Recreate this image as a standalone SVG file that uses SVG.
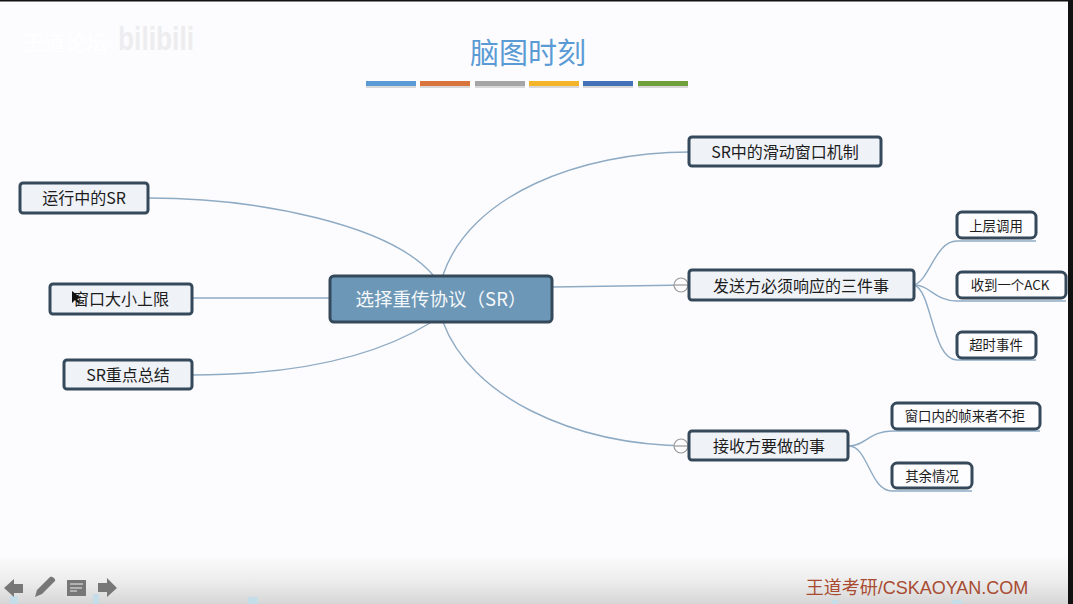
<svg xmlns="http://www.w3.org/2000/svg" width="1073" height="604" viewBox="0 0 1073 604">
<defs>
<linearGradient id="fade" x1="0" y1="0" x2="0" y2="1"><stop offset="0" stop-color="#fcfcfe"/><stop offset="0.55" stop-color="#ececec"/><stop offset="1" stop-color="#d6d6d6"/></linearGradient>
</defs>
<style>
text{font-family:"Noto Sans CJK SC","Liberation Sans",sans-serif;text-anchor:middle;dominant-baseline:central;fill:#1c1c1c;font-size:16px}
.n{fill:#eff2f7;stroke:#35495a;stroke-width:3}
.s{fill:#fdfdff;stroke:#35495a;stroke-width:3}
.c{fill:none;stroke:#8fabc4;stroke-width:1.4}
.small{font-size:13.4px}
.col{fill:#fcfcfe;stroke:#999;stroke-width:1.2}
.t{fill:#777}
.bar{stroke:#bbb;stroke-width:0}
.b{fill:#c4dde9}
</style>
<rect width="1073" height="604" fill="#fcfcfe"/>
<rect width="1073" height="1.5" fill="#111"/>
<rect x="1068" y="0" width="5" height="604" fill="#111"/>
<rect x="0" y="555" width="1068" height="49" fill="url(#fade)"/>
<g id="ticks"><rect class="b" x="10" y="596" width="8" height="8"/><rect class="b" x="93" y="594" width="6" height="10"/><rect class="b" x="248" y="597" width="10" height="7"/><rect class="b" x="832" y="600" width="6" height="4"/><rect class="b" x="952" y="600" width="10" height="4"/></g>
<g id="watermark"><text x="65" y="41" style="fill:#ffffff;font-size:21px">王道论坛</text><text x="156" y="38" textLength="76" lengthAdjust="spacingAndGlyphs" style="fill:#ededef;font-size:34px;font-weight:bold;font-family:'Liberation Sans',sans-serif">bilibili</text></g>
<g id="title"><text x="528" y="51" style="fill:#5b9bd5;font-size:29px">脑图时刻</text>
<rect x="366" y="81" width="50" height="6" fill="#d8d8d8" transform="translate(0 1)"/><rect x="420" y="81" width="50" height="6" fill="#d8d8d8" transform="translate(0 1)"/><rect x="475" y="81" width="50" height="6" fill="#d8d8d8" transform="translate(0 1)"/><rect x="529" y="81" width="50" height="6" fill="#d8d8d8" transform="translate(0 1)"/><rect x="583" y="81" width="50" height="6" fill="#d8d8d8" transform="translate(0 1)"/><rect x="638" y="81" width="50" height="6" fill="#d8d8d8" transform="translate(0 1)"/>
<rect x="366" y="81" width="50" height="5" fill="#5b9bd5"/><rect x="420" y="81" width="50" height="5" fill="#d9743c"/><rect x="475" y="81" width="50" height="5" fill="#a5a5a5"/><rect x="529" y="81" width="50" height="5" fill="#f5b52a"/><rect x="583" y="81" width="50" height="5" fill="#4472b8"/><rect x="638" y="81" width="50" height="5" fill="#70a03c"/></g>
<g id="connectors">
<path class="c" d="M148 198C260 198 390 225 433 275"/>
<path class="c" d="M192 298H330"/>
<path class="c" d="M192 375C290 375 370 360 430 323"/>
<path class="c" d="M443 275C470 195 580 152 689 152"/>
<path class="c" d="M552 287L689 285"/>
<path class="c" d="M443 322C470 395 570 445 689 446"/>
<path class="c" d="M914 285C930 280 935 241 957 241H1036"/>
<path class="c" d="M914 285C930 285 935 301 957 301H1066"/>
<path class="c" d="M914 285C932 290 932 360 957 360H1036"/>
<path class="c" d="M849 446C865 446 870 431 892 431H1040"/>
<path class="c" d="M849 446C868 446 870 491 892 491H972"/>
</g>
<g id="root"><rect x="330" y="276" width="222" height="46" rx="4" fill="#6d97b6" stroke="#35495a" stroke-width="3"/><text x="441" y="298" style="fill:#f5f8fa;font-size:18.5px">选择重传协议（SR）</text></g>
<g id="n1"><rect class="n" x="20" y="183" width="128" height="30" rx="3"/><text x="84" y="197">运行中的SR</text></g>
<g id="n2"><rect class="n" x="50" y="284" width="142" height="30" rx="3"/><text x="121" y="298">窗口大小上限</text></g>
<g id="n3"><rect class="n" x="64" y="360" width="128" height="29" rx="3"/><text x="128" y="374">SR重点总结</text></g>
<g id="n4"><rect class="n" x="689" y="137" width="192" height="29" rx="3"/><text x="785" y="151">SR中的滑动窗口机制</text></g>
<g id="n5"><circle class="col" cx="681" cy="285" r="7"/><path d="M674 285H688" stroke="#999" stroke-width="1.2"/><rect class="n" x="689" y="270" width="225" height="30" rx="3"/><text x="801" y="285">发送方必须响应的三件事</text></g>
<g id="n6"><circle class="col" cx="681" cy="446" r="7"/><path d="M674 446H688" stroke="#999" stroke-width="1.2"/><rect class="n" x="689" y="431" width="159" height="29" rx="3"/><text x="769" y="445">接收方要做的事</text></g>
<g id="n7"><rect class="s" x="957" y="212" width="79" height="26" rx="5"/><text class="small" x="996" y="225">上层调用</text></g>
<g id="n8"><rect class="s" x="957" y="272" width="109" height="26" rx="5"/><text class="small" x="1010" y="284">收到一个ACK</text></g>
<g id="n9"><rect class="s" x="957" y="332" width="79" height="26" rx="5"/><text class="small" x="996" y="344">超时事件</text></g>
<g id="n10"><rect class="s" x="892" y="403" width="148" height="26" rx="5"/><text class="small" x="965" y="415">窗口内的帧来者不拒</text></g>
<g id="n11"><rect class="s" x="892" y="463" width="80" height="25" rx="5"/><text class="small" x="932" y="475">其余情况</text></g>
<g id="cursor"><path d="M72 291L72 303L75 300L79 304L80 302L77 299L81 298Z" fill="#111"/></g>
<g id="toolbar">
<path class="t" d="M4 588L14 579V584H23V593H14V597Z"/>
<path class="t" d="M35 597L37 590L50 577C52 576 56 579 55 581L42 594Z"/>
<rect class="t" x="67" y="580" width="19" height="16"/><path d="M70 584H83M70 588H82M70 591H77" stroke="#eee" stroke-width="1.2"/>
<path class="t" d="M117 588L107 578V583H98V592H107V597Z"/>
</g>
<text id="brand" x="917" y="588" style="fill:#a84b30;font-size:18px;font-family:'Liberation Sans','Noto Sans CJK SC',sans-serif">王道考研/CSKAOYAN.COM</text>
</svg>
